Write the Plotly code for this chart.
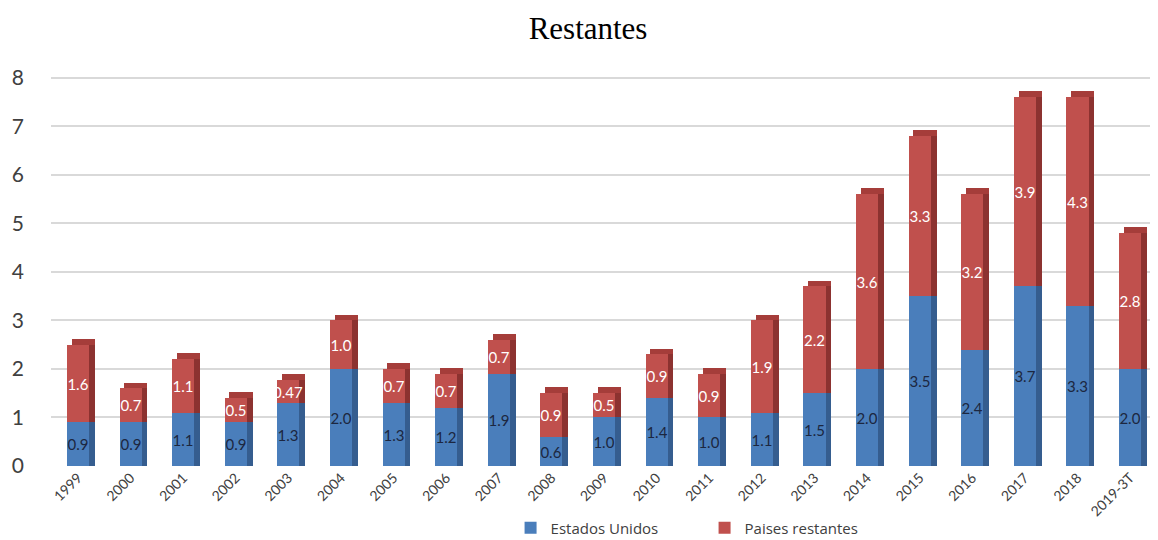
import plotly.graph_objects as go

years = ["1999", "2000", "2001", "2002", "2003", "2004", "2005", "2006", "2007", "2008",
         "2009", "2010", "2011", "2012", "2013", "2014", "2015", "2016", "2017", "2018", "2019-3T"]
estados_unidos = [0.9, 0.9, 1.1, 0.9, 1.3, 2.0, 1.3, 1.2, 1.9, 0.6,
                  1.0, 1.4, 1.0, 1.1, 1.5, 2.0, 3.5, 2.4, 3.7, 3.3, 2.0]
paises_restantes = [1.6, 0.7, 1.1, 0.5, 0.47, 1.0, 0.7, 0.7, 0.7, 0.9,
                    0.5, 0.9, 0.9, 1.9, 2.2, 3.6, 3.3, 3.2, 3.9, 4.3, 2.8]

totals = [u + r for u, r in zip(estados_unidos, paises_restantes)]

BLUE, BLUE_SIDE = "#4a7ebb", "#355d8f"
RED, RED_SIDE, RED_TOP = "#c0504d", "#8c3230", "#a53d3a"
FRONT_W, FRONT_OFF = 0.42, -0.21
SIDE_W, SIDE_OFF = 0.11, 0.21
CAP_H = 0.12

fig = go.Figure()

# pseudo-3D side faces and top caps
fig.add_trace(go.Bar(x=years, y=estados_unidos, base=[0] * len(years), width=SIDE_W, offset=SIDE_OFF,
                     marker=dict(color=BLUE_SIDE, line=dict(width=0)), showlegend=False, hoverinfo="skip"))
fig.add_trace(go.Bar(x=years, y=[r + CAP_H for r in paises_restantes], base=estados_unidos,
                     width=SIDE_W, offset=SIDE_OFF,
                     marker=dict(color=RED_SIDE, line=dict(width=0)), showlegend=False, hoverinfo="skip"))
fig.add_trace(go.Bar(x=years, y=[CAP_H] * len(years), base=totals, width=FRONT_W + 0.02, offset=FRONT_OFF + 0.09,
                     marker=dict(color=RED_TOP, line=dict(width=0)), showlegend=False, hoverinfo="skip"))

# front faces
fig.add_trace(go.Bar(x=years, y=estados_unidos, base=[0] * len(years), width=FRONT_W, offset=FRONT_OFF,
                     name="Estados Unidos", marker=dict(color=BLUE, line=dict(width=0)),
                     text=[str(v) for v in estados_unidos], textposition="inside",
                     insidetextanchor="middle", textangle=0, constraintext="none",
                     textfont=dict(color="#1c2740", size=15, family="Lato")))
fig.add_trace(go.Bar(x=years, y=paises_restantes, base=estados_unidos, width=FRONT_W, offset=FRONT_OFF,
                     name="Paises restantes", marker=dict(color=RED, line=dict(width=0)),
                     text=[str(v) for v in paises_restantes], textposition="inside",
                     insidetextanchor="middle", textangle=0, constraintext="none",
                     textfont=dict(color="white", size=15, family="Lato")))

fig.update_layout(
    width=1158, height=540,
    barmode="overlay",
    paper_bgcolor="white", plot_bgcolor="white",
    margin=dict(l=43, r=8, t=60, b=82),
    title=dict(text="Restantes", x=0.5009, xanchor="center", y=0.963, yanchor="middle",
               font=dict(family="Liberation Serif", size=31, color="black")),
    xaxis=dict(type="category", range=[-0.513, 20.53], showgrid=False, showline=False, zeroline=False,
               tickangle=-45, tickfont=dict(family="Lato", size=14, color="#404040"), ticks="",
               automargin=False),
    yaxis=dict(range=[0, 8.2], tickvals=[0, 1, 2, 3, 4, 5, 6, 7, 8], showgrid=True,
               gridcolor="#d9d9d9", gridwidth=2, zeroline=False, showline=False,
               tickfont=dict(family="Lato", size=21, color="#404040"), ticklabelstandoff=26,
               automargin=False),
    legend=dict(orientation="h", xref="container", yref="container",
                x=0.434, xanchor="left", y=1 - 520 / 540, yanchor="middle",
                font=dict(family="Open Sans", size=15, color="#404040"),
                entrywidth=149, entrywidthmode="pixels", itemwidth=30,
                traceorder="normal"),
    bargap=0,
)

fig.write_html("out.html")
